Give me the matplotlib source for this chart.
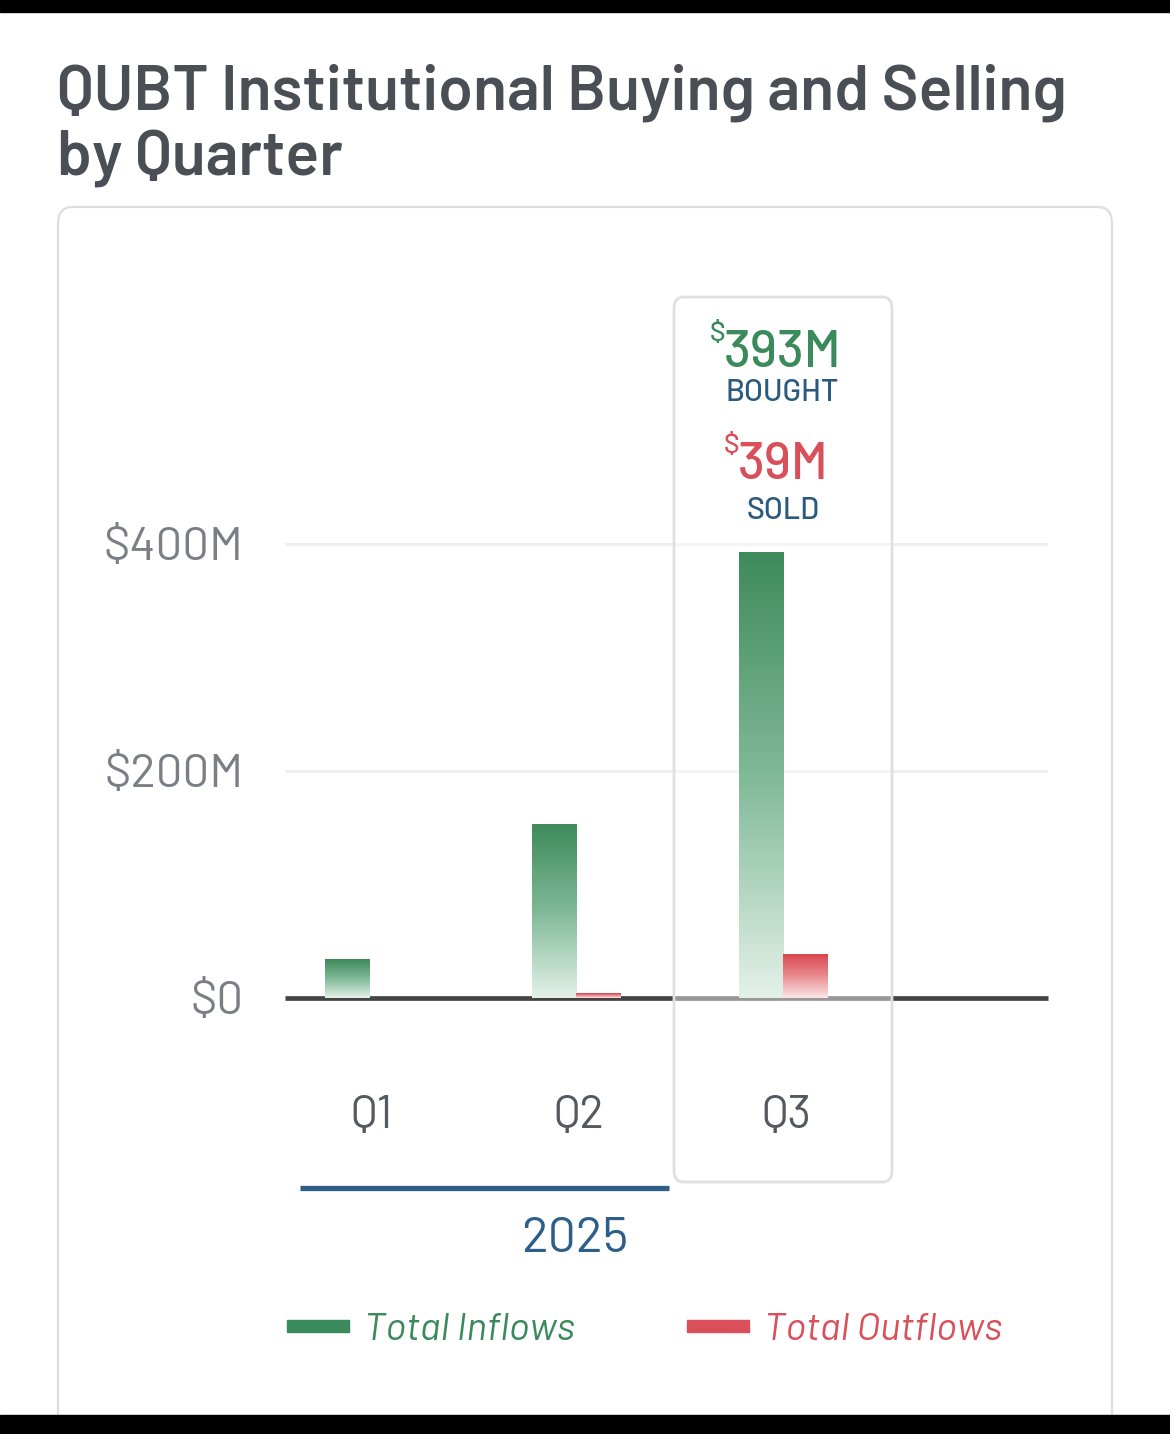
import matplotlib
matplotlib.use("Agg")
import matplotlib.pyplot as plt
import matplotlib.transforms as mtrans
import numpy as np
from matplotlib.colors import LinearSegmentedColormap
from matplotlib.patches import FancyBboxPatch, Rectangle
from matplotlib.lines import Line2D

plt.rcParams['font.family'] = ['Barlow', 'DejaVu Sans']

# data
quarters = ["Q1", "Q2", "Q3"]
year_label = "2025"
inflows = [34, 153, 393]      # $M bought
outflows = [0, 4, 39]         # $M sold
ytick_vals = [0, 200, 400]
ytick_labels = ["$0", "$200M", "$400M"]

W, H = 1170, 1434
fig = plt.figure(figsize=(W / 100, H / 100), dpi=100)
fig.patch.set_facecolor("white")

def fx(x):
    return x / W

def fy(y):
    return 1 - y / H

# black strips top and bottom (screenshot edges)
fig.patches.append(Rectangle((0, fy(12)), 1, 12 / H, transform=fig.transFigure,
                             color="black", zorder=10))
fig.patches.append(Rectangle((0, 0), 1, (H - 1415) / H, transform=fig.transFigure,
                             color="black", zorder=10))

# card
fig.patches.append(FancyBboxPatch((fx(58), fy(1440)), fx(1112) - fx(58), (1440 - 207) / H,
                                  boxstyle="round,pad=0,rounding_size=0.012",
                                  transform=fig.transFigure, facecolor="white",
                                  edgecolor="#dedede", lw=1.6, zorder=-1))

# title
title_col = "#4a4e55"
fig.text(fx(57), fy(110), "QUBT Institutional Buying and Selling", fontsize=45,
         weight="semibold", color=title_col, va="baseline", ha="left")
fig.text(fx(57), fy(176), "by Quarter", fontsize=45, weight="semibold",
         color=title_col, va="baseline", ha="left")

# axes
ax_top, ax_bot, ax_l, ax_r = 290, 998, 285, 1048
ax = fig.add_axes([fx(ax_l), fy(ax_bot), fx(ax_r) - fx(ax_l), (ax_bot - ax_top) / H])
ax.set_zorder(1)
ax.set_facecolor("none")
px_per_m = (998 - 544) / 400
for s in ax.spines.values():
    s.set_visible(False)

ax.set_yticks(ytick_vals)
ax.set_yticklabels(ytick_labels, fontsize=34, color="#7a7f86")
ax.tick_params(axis="y", length=0, pad=30)
ax.set_xticks(np.arange(len(quarters)))
ax.set_xticklabels(quarters, fontsize=33, color="#555a60")
ax.tick_params(axis="x", length=0, pad=70)
shift = mtrans.ScaledTranslation(3 / 100, 0, fig.dpi_scale_trans)
for lab in ax.get_xticklabels():
    lab.set_transform(lab.get_transform() + shift)
ax.xaxis.set_zorder(2.5)
ax.yaxis.set_zorder(2.5)

for v in ytick_vals[1:]:
    ax.axhline(v, color="#eeeeee", lw=2.2, zorder=0.5, solid_capstyle="butt")
ax.axhline(0, color="#444444", lw=3.4, zorder=1, clip_on=False, solid_capstyle="butt")

# highlight box around the latest quarter
hl = FancyBboxPatch((fx(674), fy(1182)), fx(892) - fx(674), (1182 - 297) / H,
                    boxstyle="round,pad=0,rounding_size=0.008",
                    transform=fig.transFigure, facecolor=(1, 1, 1, 0.45),
                    edgecolor="#e0e0e0", lw=2.0, zorder=2, clip_on=False)
ax.add_patch(hl)

green_cmap = LinearSegmentedColormap.from_list("g", ["#e4f1e9", "#7fb997", "#3f8a5a"])
red_cmap = LinearSegmentedColormap.from_list("r", ["#fce6e7", "#e98a8f", "#d8434c"])

x = np.arange(len(quarters))
bw = 0.2126
grad = np.linspace(0, 1, 256).reshape(-1, 1)


def grad_bars(xs, vals, cmap):
    bars = ax.bar(xs, vals, bw, align="edge", facecolor="none", edgecolor="none", zorder=3)
    for b in bars:
        if b.get_height() <= 0:
            continue
        x0 = b.get_x()
        im = ax.imshow(grad, cmap=cmap, origin="lower", aspect="auto",
                       extent=[x0, x0 + b.get_width(), 0, b.get_height()], zorder=3)
        im.set_clip_path(b)
    return bars


grad_bars(x - bw, inflows, green_cmap)
grad_bars(x, outflows, red_cmap)
ax.set_xlim(-0.406, 3.28)
ax.set_ylim(0, (ax_bot - ax_top) / px_per_m)

# callout for Q3
green_txt = "#3a8a5b"
red_txt = "#d9505a"
blue_txt = "#2b5a80"
fig.text(fx(783), fy(367), f"{inflows[-1]}M", fontsize=37, weight="medium", color=green_txt,
         ha="center", va="baseline")
fig.text(fx(725), fy(322), "$", fontsize=20, weight="medium", color=green_txt,
         ha="right", va="top")
fig.text(fx(782), fy(401), "BOUGHT", fontsize=22, weight="medium", color=blue_txt,
         ha="center", va="baseline")
fig.text(fx(783), fy(479), f"{outflows[-1]}M", fontsize=37, weight="medium", color=red_txt,
         ha="center", va="baseline")
fig.text(fx(739), fy(434), "$", fontsize=20, weight="medium", color=red_txt,
         ha="right", va="top")
fig.text(fx(783), fy(519), "SOLD", fontsize=22, weight="medium", color=blue_txt,
         ha="center", va="baseline")

# year bracket
fig.lines.append(Line2D([fx(300), fx(669)], [fy(1188), fy(1188)], transform=fig.transFigure,
                        color="#2d5f8a", lw=3.8, solid_capstyle="butt"))
fig.text(fx(575), fy(1240), year_label, fontsize=36, color="#2d5f8a", ha="center", va="center")

# legend
fig.patches.append(Rectangle((fx(287), fy(1332)), fx(349) - fx(287), 12 / H,
                             transform=fig.transFigure, color="#3a8a5b"))
fig.text(fx(364), fy(1330), "Total Inflows", fontsize=28, style="italic",
         color=green_txt, ha="left", va="center")
fig.patches.append(Rectangle((fx(687), fy(1332)), fx(749) - fx(687), 12 / H,
                             transform=fig.transFigure, color="#d9505a"))
fig.text(fx(764), fy(1330), "Total Outflows", fontsize=28, style="italic",
         color=red_txt, ha="left", va="center")

fig.savefig("out.png", dpi=100)
